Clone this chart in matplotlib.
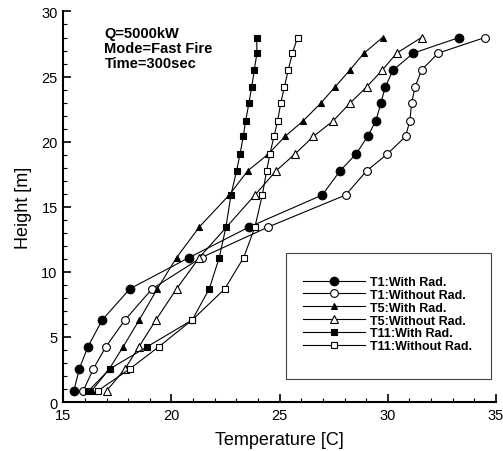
import matplotlib.pyplot as plt
from matplotlib.patches import Rectangle
from matplotlib.ticker import MultipleLocator

plt.rcParams['font.family'] = ['Liberation Sans', 'DejaVu Sans']

# measuring heights [m]
heights = [0.85, 2.55, 4.25, 6.3, 8.7, 11.1, 13.45, 15.9, 17.75, 19.05,
           20.4, 21.6, 22.95, 24.2, 25.5, 26.8, 28.0]
# T5 without radiation has no point at 13.45 m
heights_t5_norad = [0.85, 2.55, 4.25, 6.3, 8.7, 11.1, 15.9, 17.75, 19.05,
                    20.4, 21.6, 22.95, 24.2, 25.5, 26.8, 28.0]

# temperatures [C]
t1_rad = [15.49, 15.74, 16.14, 16.80, 18.08, 20.82, 23.60, 26.97, 27.79, 28.53,
          29.07, 29.45, 29.68, 29.88, 30.25, 31.18, 33.30]
t1_norad = [15.92, 16.39, 16.97, 17.85, 19.11, 21.39, 24.48, 28.05, 29.02, 29.98,
            30.82, 31.02, 31.10, 31.26, 31.56, 32.33, 34.49]
t5_rad = [16.31, 17.13, 17.77, 18.51, 19.35, 20.24, 21.29, 22.67, 23.52, 24.48,
          25.25, 26.09, 26.90, 27.56, 28.25, 28.90, 29.76]
t5_norad = [17.00, 17.85, 18.50, 19.28, 20.24, 21.29, 23.86, 24.83, 25.71,
            26.56, 27.48, 28.25, 29.02, 29.75, 30.41, 31.56]
t11_rad = [16.16, 17.16, 18.88, 20.96, 21.75, 22.21, 22.52, 22.75, 23.01, 23.17,
           23.32, 23.43, 23.58, 23.71, 23.83, 23.95, 23.94]
t11_norad = [16.59, 18.08, 19.42, 20.96, 22.47, 23.34, 23.86, 24.20, 24.40, 24.55,
             24.74, 24.91, 25.05, 25.22, 25.40, 25.59, 25.83]

labels = ["T1:With Rad.", "T1:Without Rad.", "T5:With Rad.",
          "T5:Without Rad.", "T11:With Rad.", "T11:Without Rad."]

fig = plt.figure(figsize=(5.03, 4.52), dpi=100)
ax = fig.add_axes([0.1258, 0.1084, 0.8602, 0.864])

# (temps, heights, marker, size, face)
styles = [
    (t1_rad, heights, 'o', 6.2, 'black'),
    (t1_norad, heights, 'o', 5.6, 'white'),
    (t5_rad, heights, '^', 5.0, 'black'),
    (t5_norad, heights_t5_norad, '^', 5.2, 'white'),
    (t11_rad, heights, 's', 4.4, 'black'),
    (t11_norad, heights, 's', 4.4, 'white'),
]

for (temps, h, marker, size, face), label in zip(styles, labels):
    ax.plot(temps, h, color='black', linewidth=0.8, marker=marker, markersize=size,
            markerfacecolor=face, markeredgecolor='black', markeredgewidth=0.8,
            label=label)

ax.set_xlim(15, 35)
ax.set_ylim(0, 30)
ax.xaxis.set_major_locator(MultipleLocator(5))
ax.xaxis.set_minor_locator(MultipleLocator(1))
ax.yaxis.set_major_locator(MultipleLocator(5))
ax.yaxis.set_minor_locator(MultipleLocator(1))

ax.spines['top'].set_visible(False)
ax.spines['right'].set_visible(False)
ax.spines['left'].set_linewidth(1.5)
ax.spines['bottom'].set_linewidth(1.5)
ax.tick_params(which='major', direction='in', length=6, width=1.2, labelsize=10.5)
ax.tick_params(axis='y', which='major', pad=4)
ax.tick_params(axis='x', which='major', pad=4)
ax.tick_params(which='minor', direction='in', length=3, width=0.8)

ax.set_xlabel("Temperature [C]", fontsize=13, labelpad=7)
ax.set_ylabel("Height [m]", fontsize=13, labelpad=7)

ax.text(16.9, 28.85, "Q=5000kW\nMode=Fast Fire\nTime=300sec", fontsize=10.5,
        fontweight='bold', va='top', ha='left', linespacing=1.05)

# legend box drawn separately, it has a lot of empty space around the entries
ax.add_patch(Rectangle((0.515, 0.059), 0.473, 0.3226, transform=ax.transAxes,
                       fill=False, edgecolor='#444444', linewidth=0.8))
ax.legend(loc='upper left', bbox_to_anchor=(0.554, 0.3227), frameon=False,
          borderpad=0, borderaxespad=0, handlelength=5.0, handletextpad=0.4,
          labelspacing=0.07, prop={'size': 9, 'weight': 'bold'})

fig.savefig('out.png', dpi=100)
